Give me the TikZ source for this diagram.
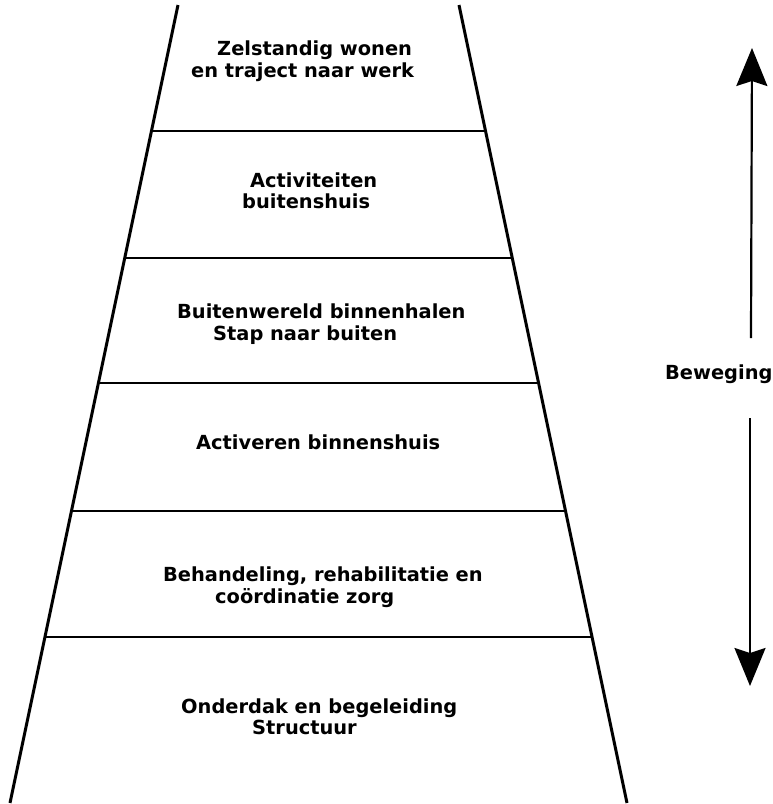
\documentclass[tikz,border=0pt]{standalone}
\usepackage{fontspec}
\setmainfont{DejaVu Sans}
\usetikzlibrary{arrows.meta,calc}
\begin{document}
\begin{tikzpicture}[x=1pt,y=-1pt,
  side/.style={line width=3pt},
  rung/.style={line width=2pt},
  lbl/.style={anchor=base west,inner sep=0pt,font=\fontsize{19.4}{22}\selectfont\bfseries},
  mover/.style={line width=2.2pt,-{Stealth[length=38pt,width=31pt,inset=5pt]}}]
\useasboundingbox (0,0) rectangle (773,804);
\coordinate (lt) at (178,5);
\coordinate (lb) at (10,803);
\coordinate (rt) at (459,5);
\coordinate (rb) at (627,803);
\draw[side] (lt) -- (lb);
\draw[side] (rt) -- (rb);
\foreach \t [count=\i] in {0.1579,0.3170,0.4737,0.6341,0.7920}{
  \coordinate (l\i) at ($(lt)!\t!(lb)$);
  \coordinate (r\i) at ($(rt)!\t!(rb)$);
  \draw[rung] (l\i) -- (r\i);
}
\node[lbl] (a1) at (217,55) {Zelstandig wonen};
\node[lbl] (a2) at (191,77) {en traject naar werk};
\node[lbl] (b1) at (250,187) {Activiteiten};
\node[lbl] (b2) at (242,208) {buitenshuis};
\node[lbl] (c1) at (177,318) {Buitenwereld binnenhalen};
\node[lbl] (c2) at (213,340) {Stap naar buiten};
\node[lbl] (d1) at (196,449) {Activeren binnenshuis};
\node[lbl] (e1) at (163,581) {Behandeling, rehabilitatie en};
\node[lbl] (e2) at (215,603) {coördinatie zorg};
\node[lbl] (f1) at (181,713) {Onderdak en begeleiding};
\node[lbl] (f2) at (252,734) {Structuur};
\node[lbl] (bw) at (665,379) {Beweging};
\coordinate (upS) at (751,338);
\coordinate (upE) at (752,48);
\coordinate (dnS) at (750,418);
\coordinate (dnE) at (750,686);
\draw[mover] (upS) -- (upE);
\draw[mover] (dnS) -- (dnE);
\end{tikzpicture}
\end{document}
